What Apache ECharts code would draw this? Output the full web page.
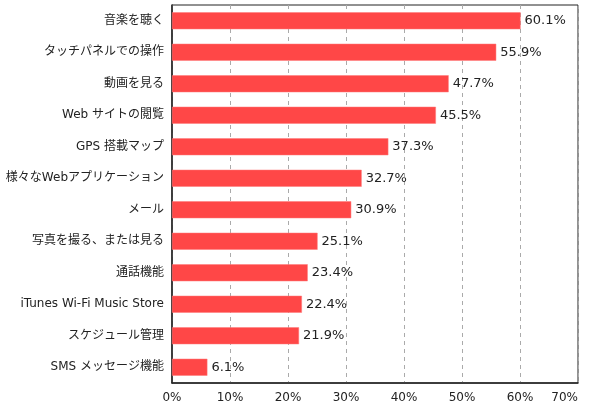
<!DOCTYPE html>
<html><head><meta charset="utf-8">
<script src="https://cdn.jsdelivr.net/npm/echarts@6/dist/echarts.min.js"></script>
<style>html,body{margin:0;padding:0;background:#fff}#c{width:589px;height:405px}</style>
</head><body><div id="c"></div>
<script>
var categories = ["音楽を聴く","タッチパネルでの操作","動画を見る","Web サイトの閲覧","GPS 搭載マップ","様々なWebアプリケーション","メール","写真を撮る、または見る","通話機能","iTunes Wi-Fi Music Store","スケジュール管理","SMS メッセージ機能"];
var values = [60.1,55.9,47.7,45.5,37.3,32.7,30.9,25.1,23.4,22.4,21.9,6.1];
var font = '"DejaVu Sans", "Noto Sans CJK JP", sans-serif';
var chart = echarts.init(document.getElementById('c'), null, {renderer:'canvas'});
chart.setOption({
  animation:false,
  grid:{left:172,right:11,top:5,bottom:22,show:true,borderColor:'#222',borderWidth:1,containLabel:false},
  xAxis:{type:'value',min:0,max:70,interval:10,
    axisLine:{show:true,lineStyle:{color:'#222',width:1.5}},
    axisTick:{show:false},
    axisLabel:{formatter:'{value}%',color:'#222',fontFamily:font,fontSize:12,margin:9,alignMaxLabel:'right'},
    splitLine:{show:true,lineStyle:{color:'#aaa',type:[4,4],width:1}}},
  yAxis:{type:'category',data:categories,inverse:true,
    axisLine:{show:true,lineStyle:{color:'#222',width:1.5}},
    axisTick:{show:false},
    axisLabel:{color:'#222',fontFamily:font,fontSize:12,margin:8}},
  series:[{type:'bar',data:values,barWidth:17,
    itemStyle:{color:'#ff4747',borderColor:'#ff7a7a',borderWidth:0.5},
    label:{show:true,position:'right',distance:4,formatter:'{c}%',color:'#222',fontFamily:font,fontSize:13}}]
});
</script></body></html>
